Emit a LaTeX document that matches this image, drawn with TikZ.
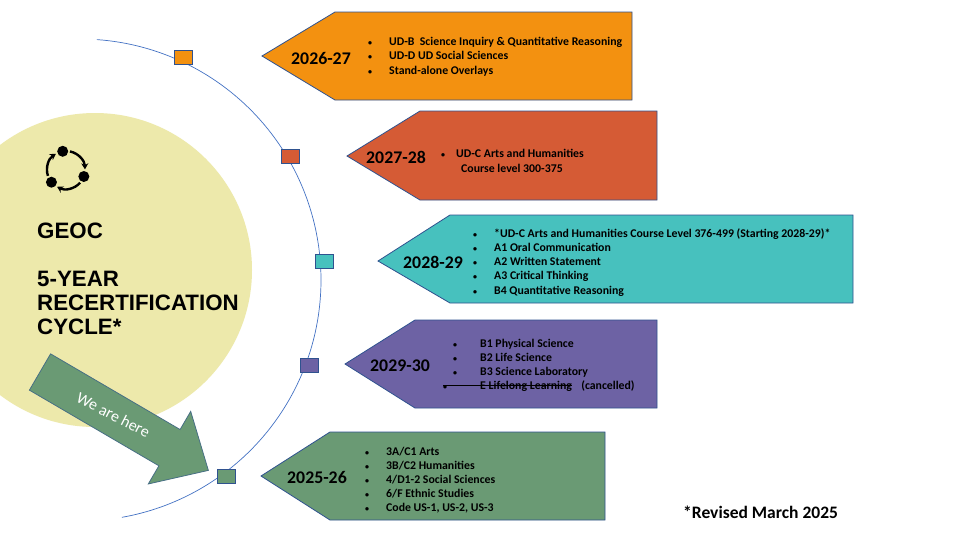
\documentclass[tikz,border=0pt]{standalone}
\usepackage{fontspec}
\setmainfont{Carlito}
\newfontfamily\arialf{Liberation Sans}
\usetikzlibrary{arrows.meta}
\definecolor{cOr}{HTML}{F39110}
\definecolor{cRd}{HTML}{D55B35}
\definecolor{cTl}{HTML}{47C1BE}
\definecolor{cPu}{HTML}{6D62A4}
\definecolor{cGr}{HTML}{6A9A74}
\definecolor{cYe}{HTML}{EDE9AB}
\definecolor{cBd}{HTML}{2F528F}
\definecolor{cArc}{HTML}{4472C4}
\newcommand\bul{{\fontsize{8}{8}\selectfont •}}
\tikzset{
 pent/.style={draw=cBd, line width=0.8pt},
 sq/.style={draw=cBd, line width=0.6pt},
 yr/.style={font=\fontsize{17.8}{17.8}\selectfont\bfseries, inner sep=0pt, anchor=base west},
 bl/.style={font=\fontsize{11.8}{12}\selectfont\bfseries, inner sep=0pt, anchor=base west},
 big/.style={font=\arialf\fontsize{22.3}{22}\selectfont\bfseries, inner sep=0pt, anchor=base west},
}
\begin{document}
\begin{tikzpicture}[x=1pt,y=-1pt]
\useasboundingbox (0,0) rectangle (958,539);
\fill[white] (0,0) rectangle (958,539);
% yellow circle
\begin{scope}
\clip (0,0) rectangle (958,539);
\fill[cYe] (95,270) circle (157);
\end{scope}
% arc
\draw[cArc, line width=0.7pt] plot[domain=-86:80, samples=120, smooth] ({80+241*cos(\x)},{280+241*sin(\x)});
% pentagons
\draw[pent, fill=cOr] (262,56) -- (335,12) -- (632,12) -- (632,100) -- (335,100) -- cycle;
\draw[pent, fill=cRd] (347,156) -- (420,111) -- (657,111) -- (657,200) -- (420,200) -- cycle;
\draw[pent, fill=cTl] (378,261) -- (450,215) -- (853,215) -- (853,303) -- (450,303) -- cycle;
\draw[pent, fill=cPu] (345,364) -- (415,320) -- (657,320) -- (657,408) -- (415,408) -- cycle;
\draw[pent, fill=cGr] (261,476) -- (330,432) -- (605,432) -- (605,520) -- (330,520) -- cycle;
% squares
\draw[sq, fill=cOr] (174,50) rectangle (192,64);
\draw[sq, fill=cRd] (281,149) rectangle (299,163);
\draw[sq, fill=cTl] (315,254) rectangle (333,268);
\draw[sq, fill=cPu] (300,358) rectangle (318,372);
\draw[sq, fill=cGr] (217,469) rectangle (235,483);
% years
\node[yr] (y1) at (291,64) {2026-27};
\node[yr] (y2) at (366,163) {2027-28};
\node[yr] (y3) at (403,268) {2028-29};
\node[yr] (y4) at (370,371) {2029-30};
\node[yr] (y5) at (287,483) {2025-26};
% orange bullets
\foreach \t [count=\i] in {{UD-B\ \ Science Inquiry \& Quantitative Reasoning},{UD-D UD Social Sciences},{Stand-alone Overlays}}{
 \node[bl] (ob\i) at (368,45+14.5*\i-14.5) {\bul};
 \node[bl] (ot\i) at (389,45+14.5*\i-14.5) {\t};
}
% red
\node[bl] (rb1) at (441,157) {\bul};
\node[bl] (rt1) at (456,157) {UD-C Arts and Humanities};
\node[bl] (rt2) at (461,172) {Course level 300-375};
% teal
\foreach \t [count=\i] in {{*UD-C Arts and Humanities Course Level 376-499 (Starting 2028-29)*},{A1 Oral Communication},{A2 Written Statement},{A3 Critical Thinking},{B4 Quantitative Reasoning}}{
 \node[bl] (tb\i) at (473,237+14.3*\i-14.3) {\bul};
 \node[bl] (tt\i) at (494,237+14.3*\i-14.3) {\t};
}
% purple
\foreach \t [count=\i] in {{B1 Physical Science},{B2 Life Science},{B3 Science Laboratory}}{
 \node[bl] (pb\i) at (453,347+14*\i-14) {\bul};
 \node[bl] (pt\i) at (480,347+14*\i-14) {\t};
}
\node[bl] (pb4) at (443,389) {\bul};
\node[bl] (pt4) at (480,389) {E Lifelong Learning};
\node[bl, anchor=base west] (pc4) at ([xshift=9pt]pt4.base east) {(cancelled)};
\draw[line width=0.8pt] ([yshift=3.6pt]pb4.base west) -- ([yshift=3.6pt]pt4.base east);
% green
\foreach \t [count=\i] in {{3A/C1 Arts},{3B/C2 Humanities},{4/D1-2 Social Sciences},{6/F Ethnic Studies},{Code US-1, US-2, US-3}}{
 \node[bl] (gb\i) at (365,455+14.2*\i-14.2) {\bul};
 \node[bl] (gt\i) at (386,455+14.2*\i-14.2) {\t};
}
% revised
\node[font=\fontsize{17.5}{17.5}\selectfont\bfseries, inner sep=0pt, anchor=base west] (rev) at (683,518) {*Revised March 2025};
% left texts
\node[big] (geoc) at (37,238) {GEOC};
\node[big] (l1) at (37,286) {5-YEAR};
\node[big] (l2) at (37,310) {RECERTIFICATION};
\node[big] (l3) at (37,334) {CYCLE*};
% cycle icon
\coordinate (cc) at (66,170);
\fill (cc) ++(-100:19) circle (5.5);
\fill (cc) ++(20:19) circle (5.5);
\fill (cc) ++(140:19) circle (5.5);
\draw[line width=2.4pt, -{Stealth[length=6pt,width=7pt]}] (cc) ++(-78:19) arc[start angle=-78, end angle=-2, radius=19];
\draw[line width=2.4pt, -{Stealth[length=6pt,width=7pt]}] (cc) ++(42:19) arc[start angle=42, end angle=118, radius=19];
\draw[line width=2.4pt, -{Stealth[length=6pt,width=7pt]}] (cc) ++(162:19) arc[start angle=162, end angle=238, radius=19];
% big arrow
\begin{scope}[shift={(40,372)}, rotate=-30.3]
\draw[draw=cBd!60!cGr, line width=0.8pt, fill=cGr] (0,-21) -- (150,-21) -- (150,-42) -- (195,0) -- (150,42) -- (150,21) -- (0,21) -- cycle;
\node[text=white, font=\fontsize{16}{16}\selectfont, rotate=-27] (here) at (85,0) {We are here};
\end{scope}
\end{tikzpicture}
\end{document}
